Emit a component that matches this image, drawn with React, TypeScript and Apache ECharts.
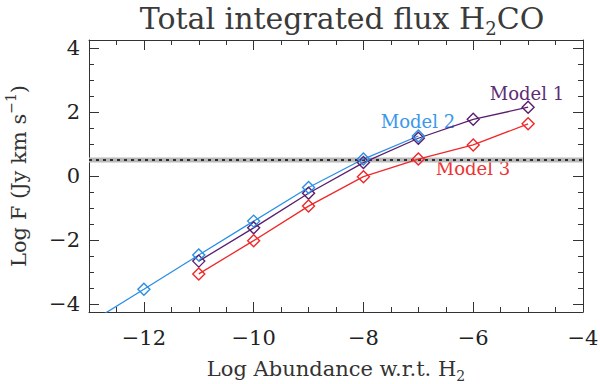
import React, { useEffect, useRef } from 'react';
import * as echarts from 'echarts';

// Log abundance (x) and log flux (y) per model
const abundanceModel1 = [-11, -10, -9, -8, -7, -6, -5];
const fluxModel1 = [-2.66, -1.62, -0.54, 0.42, 1.18, 1.77, 2.15];
const abundanceModel2 = [-13, -12, -11, -10, -9, -8, -7];
const fluxModel2 = [-4.6, -3.54, -2.47, -1.41, -0.36, 0.53, 1.25];
const abundanceModel3 = [-11, -10, -9, -8, -7, -6, -5];
const fluxModel3 = [-3.06, -2.02, -0.94, -0.02, 0.53, 0.97, 1.63];

const observedFlux = 0.5;
const observedBand = [0.42, 0.58];

const xMajorTicks = [-12, -10, -8, -6, -4];
const xMinorTicks = [-13, -12.5, -12, -11.5, -11, -10.5, -10, -9.5, -9, -8.5, -8, -7.5, -7, -6.5, -6, -5.5, -5, -4.5, -4];
const yMajorTicks = [-4, -2, 0, 2, 4];
const yMinorTicks = [-4, -3.5, -3, -2.5, -2, -1.5, -1, -0.5, 0, 0.5, 1, 1.5, 2, 2.5, 3, 3.5, 4];

const seriesNames = ['Model 1', 'Model 2', 'Model 3'];
const seriesColors = ['#5a1f6e', '#2a8fe6', '#f0282a'];
const labelColors = ['#5e2c74', '#3a98ec', '#ec3434'];

const FONT = 'DejaVu Serif';
const AXIS_COLOR = '#333';

const fmt = (v: number) => (v < 0 ? '\u2212' + Math.abs(v) : String(v));

function pairs(xs: number[], ys: number[]) {
  return xs.map((x, i) => [x, ys[i]]);
}

export default function App() {
  const ref = useRef<HTMLDivElement>(null);
  useEffect(() => {
    if (!ref.current) return;
    const chart = echarts.init(ref.current, null, { renderer: 'svg' });
    const lineStyle = { color: AXIS_COLOR, width: 1 };
    const xBase = { type: 'value', min: -13, max: -4, splitLine: { show: false }, gridIndex: 0 };
    const yBase = { type: 'value', min: -4.25, max: 4.25, splitLine: { show: false }, gridIndex: 0 };
    const hiddenLabel = { show: false };
    const data = [
      pairs(abundanceModel1, fluxModel1),
      pairs(abundanceModel2, fluxModel2),
      pairs(abundanceModel3, fluxModel3),
    ];
    const series: any[] = data.map((d, i) => ({
      type: 'line',
      name: seriesNames[i],
      data: d,
      clip: true,
      symbol: 'diamond',
      symbolSize: 12,
      showAllSymbol: true,
      lineStyle: { color: seriesColors[i], width: 1.3 },
      itemStyle: { color: 'rgba(0,0,0,0)', borderColor: seriesColors[i], borderWidth: 1.4 },
      z: 5,
    }));
    series.push({
      type: 'line',
      data: [],
      markArea: {
        silent: true,
        itemStyle: { color: '#b8b8b8' },
        data: [[{ yAxis: observedBand[0] }, { yAxis: observedBand[1] }]],
      },
      markLine: {
        silent: true,
        symbol: 'none',
        label: { show: false },
        lineStyle: { color: '#000', type: [3, 4], width: 1.5 },
        data: [{ yAxis: observedFlux }],
      },
      z: 2,
    });

    const nameRichX = {
      a: { fontSize: 21, fontFamily: FONT, color: '#333', lineHeight: 28, verticalAlign: 'middle' },
      s: { fontSize: 14, fontFamily: FONT, color: '#333', lineHeight: 28, verticalAlign: 'bottom' },
    };
    const nameRichY = {
      a: { fontSize: 21, fontFamily: FONT, color: '#333', lineHeight: 30, verticalAlign: 'middle' },
      p: { fontSize: 14, fontFamily: FONT, color: '#333', lineHeight: 30, verticalAlign: 'top' },
    };

    const option: any = {
      animation: false,
      backgroundColor: '#fff',
      textStyle: { fontFamily: FONT },
      grid: { left: 89, right: 17, top: 40, bottom: 72, containLabel: false, outerBoundsMode: 'none' },
      xAxis: [
        {
          ...xBase,
          position: 'bottom',
          axisLine: { show: true, onZero: false, lineStyle },
          axisTick: { show: true, inside: true, length: 10, customValues: xMajorTicks, lineStyle },
          axisLabel: { customValues: xMajorTicks, formatter: fmt, margin: 15, fontSize: 21, fontFamily: FONT, color: '#222' },
          name: '{a|Log Abundance w.r.t. H}{s|2}',
          nameLocation: 'middle',
          nameGap: 43,
          nameTextStyle: { fontFamily: FONT, fontSize: 21, color: '#333', rich: nameRichX },
        },
        {
          ...xBase,
          position: 'bottom',
          axisLine: { show: false, onZero: false },
          axisTick: { show: true, inside: true, length: 5, customValues: xMinorTicks, lineStyle },
          axisLabel: hiddenLabel,
        },
        {
          ...xBase,
          position: 'top',
          axisLine: { show: true, onZero: false, lineStyle },
          axisTick: { show: true, inside: true, length: 10, customValues: xMajorTicks, lineStyle },
          axisLabel: hiddenLabel,
        },
        {
          ...xBase,
          position: 'top',
          axisLine: { show: false, onZero: false },
          axisTick: { show: true, inside: true, length: 5, customValues: xMinorTicks, lineStyle },
          axisLabel: hiddenLabel,
        },
      ],
      yAxis: [
        {
          ...yBase,
          position: 'left',
          axisLine: { show: true, onZero: false, lineStyle },
          axisTick: { show: true, inside: true, length: 10, customValues: yMajorTicks, lineStyle },
          axisLabel: { customValues: yMajorTicks, formatter: fmt, margin: 9, fontSize: 21, fontFamily: FONT, color: '#222' },
          name: '{a|Log F (Jy km s}{p|\u22121}{a|)}',
          nameLocation: 'middle',
          nameGap: 55,
          nameRotate: 90,
          nameTextStyle: { fontFamily: FONT, fontSize: 21, color: '#333', rich: nameRichY },
        },
        {
          ...yBase,
          position: 'left',
          axisLine: { show: false, onZero: false },
          axisTick: { show: true, inside: true, length: 5, customValues: yMinorTicks, lineStyle },
          axisLabel: hiddenLabel,
        },
        {
          ...yBase,
          position: 'right',
          axisLine: { show: true, onZero: false, lineStyle },
          axisTick: { show: true, inside: true, length: 10, customValues: yMajorTicks, lineStyle },
          axisLabel: hiddenLabel,
        },
        {
          ...yBase,
          position: 'right',
          axisLine: { show: false, onZero: false },
          axisTick: { show: true, inside: true, length: 5, customValues: yMinorTicks, lineStyle },
          axisLabel: hiddenLabel,
        },
      ],
      graphic: [
        {
          type: 'text',
          x: 342,
          y: 18,
          style: {
            text: '{a|Total integrated flux H}{s|2}{a|CO}',
            align: 'center',
            verticalAlign: 'middle',
            fontFamily: FONT,
            rich: {
              a: { fontSize: 30, fontFamily: FONT, fill: '#3a3a3a', lineHeight: 38, verticalAlign: 'middle' },
              s: { fontSize: 18, fontFamily: FONT, fill: '#3a3a3a', lineHeight: 38, verticalAlign: 'bottom' },
            },
          },
        },
        {
          type: 'text', x: 527, y: 93,
          style: { text: seriesNames[0], align: 'center', verticalAlign: 'middle', fontSize: 18, fontFamily: FONT, fill: labelColors[0] },
        },
        {
          type: 'text', x: 418, y: 121,
          style: { text: seriesNames[1], align: 'center', verticalAlign: 'middle', fontSize: 18, fontFamily: FONT, fill: labelColors[1] },
        },
        {
          type: 'text', x: 473, y: 168,
          style: { text: seriesNames[2], align: 'center', verticalAlign: 'middle', fontSize: 18, fontFamily: FONT, fill: labelColors[2] },
        },
      ],
      series,
    };
    chart.setOption(option);
    return () => chart.dispose();
  }, []);
  return <div ref={ref} style={{ position: 'fixed', left: 0, top: 0, width: 600, height: 384 }} />;
}
